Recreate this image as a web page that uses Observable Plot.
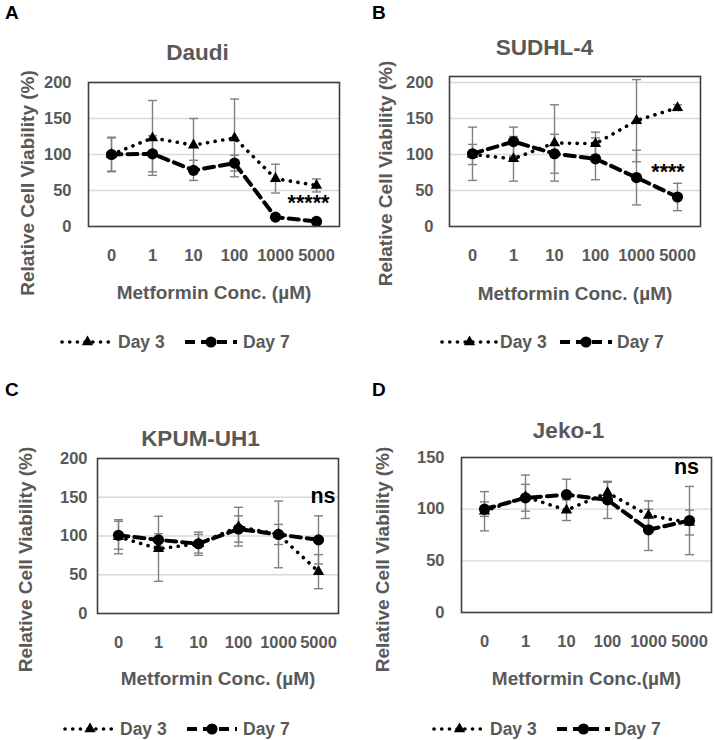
<!DOCTYPE html>
<html><head><meta charset="utf-8">
<script src="https://cdn.jsdelivr.net/npm/d3@7"></script>
<script src="https://cdn.jsdelivr.net/npm/@observablehq/plot@0.6"></script>
<style>
body{margin:0;background:#fff;}
#fig{position:relative;width:714px;height:740px;overflow:hidden;}
#fig svg{position:absolute;}
</style></head><body><div id="fig"></div>
<script>
// ---------- data ----------
const concs = ["0", "1", "10", "100", "1000", "5000"];
const panelLetters = ["A", "B", "C", "D"];
const cellLines = ["Daudi", "SUDHL-4", "KPUM-UH1", "Jeko-1"];
const xLabels = ["Metformin Conc. (µM)", "Metformin Conc. (µM)", "Metformin Conc. (µM)", "Metformin Conc.(µM)"];
const yLabel = "Relative Cell Viability (%)";
const seriesNames = ["Day 3", "Day 7"];

const daudiDay3 = [100, 123, 113, 123, 66.5, 57];
const daudiDay3Err = [24, 52, 37, 54, 20, 9];
const daudiDay7 = [100, 101, 78, 88, 13, 7];
const daudiDay7Err = [23, 25, 14, 11, 2, 2];

const sudhlDay3 = [100, 94, 116, 115, 147, 165];
const sudhlDay3Err = [14, 31, 53, 16, 57, 4];
const sudhlDay7 = [101, 118, 101, 94, 68, 41];
const sudhlDay7Err = [37, 20, 27, 29, 38, 19];

const kpumDay3 = [99, 83.5, 90, 112, 102, 54];
const kpumDay3Err = [22, 42, 15, 25, 43, 22];
const kpumDay7 = [101, 95, 90, 109, 102, 95];
const kpumDay7Err = [18, 8, 12, 17, 13, 31];

const jekoDay3 = [98, 112, 99, 116, 94, 87];
const jekoDay3Err = [19, 21, 10, 10, 14, 12];
const jekoDay7 = [100, 111, 114, 109, 80, 89];
const jekoDay7Err = [7, 13, 15, 18, 20, 33];

const yMax = [200, 208.3, 200, 150];
const yTicks = [[0, 50, 100, 150, 200], [0, 50, 100, 150, 200], [0, 50, 100, 150, 200], [0, 50, 100, 150]];
const annLabels = ["*****", "****", "ns", "ns"];
const annConc = "5000";
const annLevels = [32, 76, 152, 141];

// ---------- layout ----------
const FONT = '"Liberation Sans", Arial, Helvetica, sans-serif';
const GRAY = "#595959";
const layout = [
  {left: 0,   top: 0,   ml: 88,  mr: 18, mt: 82, mb: 144, tp: 17, tDx: -16.5, tDy: -30, yDx: -61, yDy: 28.5, xDy: 66, aDx: -8,   legY: 342, leg: [62, 113, 118, 185, 237, 243], letX: 5,  letY: 18.6},
  {left: 357, top: 0,   ml: 92,  mr: 14, mt: 76, mb: 144, tp: 16, tDx: -30.5, tDy: -29, yDx: -64, yDy: 22,   xDy: 67, aDx: -9.5, legY: 342, leg: [85, 140, 143, 203, 255, 260], letX: 15, letY: 18.6},
  {left: 0,   top: 370, ml: 97,  mr: 19, mt: 88, mb: 127, tp: 10, tDx: -17.5, tDy: -20, yDx: -72, yDy: 23.5, xDy: 65, aDx: 4.5,  legY: 359, leg: [65, 115, 120, 187, 237, 243], letX: 5,  letY: 25.6},
  {left: 357, top: 370, ml: 104, mr: 3,  mt: 87, mb: 128, tp: 17, tDx: -18,   tDy: -27, yDx: -79, yDy: 24.5, xDy: 66, aDx: -3,   legY: 359, leg: [77, 128, 133, 200, 253, 257], letX: 15, letY: 25.6}
];
const W = 357, H = 370;

const day3 = [daudiDay3, sudhlDay3, kpumDay3, jekoDay3];
const day3Err = [daudiDay3Err, sudhlDay3Err, kpumDay3Err, jekoDay3Err];
const day7 = [daudiDay7, sudhlDay7, kpumDay7, jekoDay7];
const day7Err = [daudiDay7Err, sudhlDay7Err, kpumDay7Err, jekoDay7Err];

// horizontal cap symbol for error bars
const capSymbol = {draw(ctx) { ctx.moveTo(-4.5, 0); ctx.lineTo(4.5, 0); }};

const fig = document.getElementById("fig");

function panel(i) {
  const L = layout[i];
  const s3 = concs.map((c, j) => ({conc: c, series: seriesNames[0], v: day3[i][j], e: day3Err[i][j]}));
  const s7 = concs.map((c, j) => ({conc: c, series: seriesNames[1], v: day7[i][j], e: day7Err[i][j]}));
  const rows = s3.concat(s7);
  const errStyle = {stroke: "#808080", strokeWidth: 1.4};
  const svg = Plot.plot({
    width: W, height: H,
    marginLeft: L.ml, marginRight: L.mr, marginTop: L.mt, marginBottom: L.mb,
    x: {type: "point", domain: concs, padding: 0.5},
    y: {domain: [0, yMax[i]]},
    style: {fontFamily: FONT, fontWeight: "bold", color: GRAY, fontSize: "16.5px", background: "transparent", overflow: "visible"},
    marks: [
      Plot.ruleY(yTicks[i].filter(t => t > 0), {stroke: "#d9d9d9", strokeWidth: 1.3}),
      Plot.axisY({ticks: yTicks[i], tickSize: 0, tickPadding: L.tp, label: null, tickFormat: d => String(d)}),
      Plot.axisX({tickSize: 0, tickPadding: 23, label: null}),
      Plot.ruleX(rows, {x: "conc", y1: d => d.v - d.e, y2: d => d.v + d.e, ...errStyle}),
      Plot.dot(rows, {x: "conc", y: d => d.v - d.e, symbol: capSymbol, fill: "none", ...errStyle}),
      Plot.dot(rows, {x: "conc", y: d => d.v + d.e, symbol: capSymbol, fill: "none", ...errStyle}),
      Plot.line(s3, {x: "conc", y: "v", stroke: "#000", strokeWidth: 3.6, strokeDasharray: "0.1 7.6", strokeLinecap: "round"}),
      Plot.dot(s3, {x: "conc", y: "v", symbol: "triangle", r: 4.2, fill: "#000", stroke: "none"}),
      Plot.line(s7, {x: "conc", y: "v", stroke: "#000", strokeWidth: 4, strokeDasharray: "10 6"}),
      Plot.dot(s7, {x: "conc", y: "v", symbol: "circle", r: 5.6, fill: "#000", stroke: "none"}),
      Plot.frame({stroke: "#404040", strokeWidth: 1.6}),
      Plot.text([cellLines[i]], {frameAnchor: "top", lineAnchor: "middle", textAnchor: "middle", dx: L.tDx, dy: L.tDy, fontSize: 22.5, fill: GRAY, fontWeight: "bold"}),
      Plot.text([xLabels[i]], {frameAnchor: "bottom", lineAnchor: "middle", textAnchor: "middle", dy: L.xDy, fontSize: 19, fill: GRAY, fontWeight: "bold"}),
      Plot.text([yLabel], {frameAnchor: "left", lineAnchor: "middle", textAnchor: "middle", rotate: -90, dx: L.yDx, dy: L.yDy, fontSize: 19, fill: GRAY, fontWeight: "bold"}),
      Plot.text([annLabels[i]], {x: () => annConc, y: () => annLevels[i], text: d => d, dx: L.aDx, fontSize: 21.5, fill: "#000", fontWeight: "bold"})
    ]
  });
  svg.style.left = L.left + "px";
  svg.style.top = L.top + "px";
  const g = d3.select(svg).append("g").attr("font-family", FONT).attr("font-weight", "bold").attr("text-anchor", "start");
  g.append("text").attr("x", L.letX).attr("y", L.letY).attr("font-size", 19).attr("fill", "#000").text(panelLetters[i]);
  const [a1, a2, t1, b1, b2, t2] = L.leg;
  const y = L.legY;
  g.append("line").attr("x1", a1).attr("x2", a2).attr("y1", y).attr("y2", y)
    .attr("stroke", "#000").attr("stroke-width", 3.6).attr("stroke-dasharray", "0.1 7.6").attr("stroke-linecap", "round");
  g.append("path").attr("d", d3.symbol(d3.symbolTriangle, Math.PI * 4.2 * 4.2)()).attr("transform", `translate(${(a1 + a2) / 2},${y})`).attr("fill", "#000");
  g.append("text").attr("x", t1).attr("y", y).attr("dy", "0.35em").attr("font-size", 17.5).attr("fill", GRAY).text(seriesNames[0]);
  g.append("line").attr("x1", b1).attr("x2", b2).attr("y1", y).attr("y2", y)
    .attr("stroke", "#000").attr("stroke-width", 4).attr("stroke-dasharray", "10 6");
  g.append("circle").attr("cx", (b1 + b2) / 2).attr("cy", y).attr("r", 5.6).attr("fill", "#000");
  g.append("text").attr("x", t2).attr("y", y).attr("dy", "0.35em").attr("font-size", 17.5).attr("fill", GRAY).text(seriesNames[1]);
  fig.appendChild(svg);
}
for (let i = 0; i < 4; i++) panel(i);
</script>
</body></html>
